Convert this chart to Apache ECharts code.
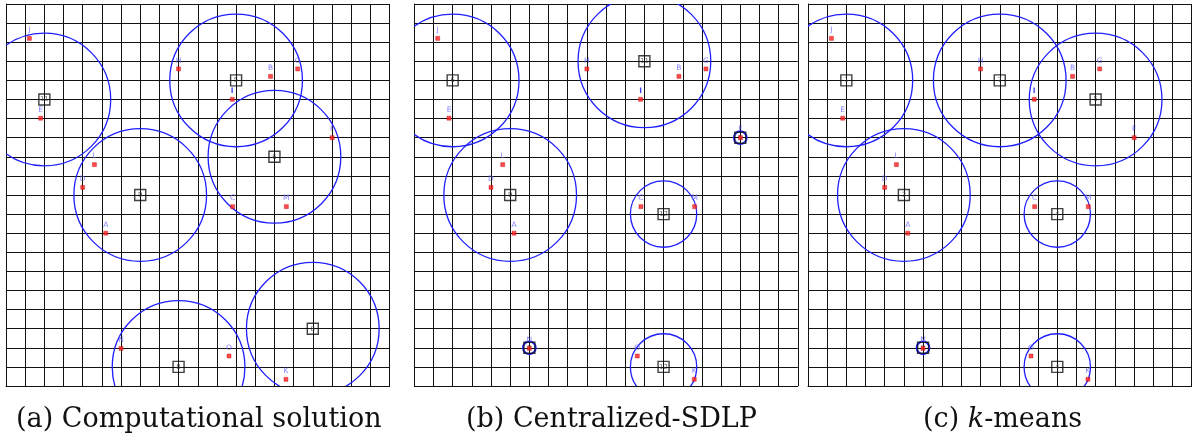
<!DOCTYPE html>
<html><head><meta charset="utf-8">
<script src="https://cdn.jsdelivr.net/npm/echarts@6/dist/echarts.min.js"></script>
<style>html,body{margin:0;padding:0;background:#fff}#c{width:1195px;height:440px}</style>
</head><body><div id="c"></div>
<script>
// Grid: 20 x 20 cells; coordinates measured from top-left corner of each panel
const pointNames = ['A','B','C','D','E','F','G','H','I','J','K','L','M','N','O'];
const pointX = [5.2, 13.8, 11.82, 4.0, 1.81, 17.01, 15.21, 9.0, 11.8, 1.22, 14.6, 4.61, 14.62, 6.0, 11.63];
const pointY = [12.0, 3.79, 10.61, 9.6, 5.98, 7.0, 3.40, 3.4, 4.99, 1.80, 19.65, 8.41, 10.61, 18.03, 18.43];

// Panel (a) Computational solution
const aCenterX = [2, 12, 14, 7, 9, 16];
const aCenterY = [5, 4, 8, 10, 19, 17];
const aRadius = [3.46, 3.46, 3.46, 3.46, 3.46, 3.46];
const aLabels = ['11', '5', '6', '9', '8', '8'];
// Panel (b) Centralized-SDLP
const bCenterX = [2, 12, 17, 5, 13, 13, 6];
const bCenterY = [4, 3, 7, 10, 11, 19, 18];
const bRadius = [3.46, 3.46, 0.33, 3.46, 1.73, 1.73, 0.33];
const bLabels = ['6', '11', '5', '9', '12', '12', '8'];
// Panel (c) k-means
const cCenterX = [2, 10, 15, 5, 13, 13, 6];
const cCenterY = [4, 4, 5, 10, 11, 19, 18];
const cRadius = [3.46, 3.46, 3.46, 3.46, 1.73, 1.73, 0.33];
const cLabels = ['1', '7', '5', '3', '4', '4', '8'];

const captions = ['(a) Computational solution', '(b) Centralized-SDLP', '(c) {i|k}-means'];

const panels = [
  {cx: aCenterX, cy: aCenterY, r: aRadius, lab: aLabels},
  {cx: bCenterX, cy: bCenterY, r: bRadius, lab: bLabels},
  {cx: cCenterX, cy: cCenterY, r: cRadius, lab: cLabels}
];
const gridPos = [
  {left: 6, top: 4, width: 383.5, height: 382},
  {left: 414.3, top: 4, width: 383.5, height: 382},
  {left: 808, top: 4, width: 383.5, height: 382}
];
const capLeft = [11, 461, 918];

const chart = echarts.init(document.getElementById('c'), null, {renderer: 'canvas'});
const grids = [], xAxes = [], yAxes = [], series = [], titles = [];
const lineStyle = {color: '#111', width: 1};
panels.forEach((p, k) => {
  grids.push(Object.assign({containLabel: false}, gridPos[k]));
  xAxes.push({type: 'value', gridIndex: k, min: 0, max: 20, interval: 1,
    axisLine: {show: true, onZero: false, lineStyle}, axisTick: {show: false}, axisLabel: {show: false},
    splitLine: {show: true, lineStyle}});
  yAxes.push({type: 'value', gridIndex: k, min: 0, max: 20, interval: 1, inverse: true,
    axisLine: {show: true, onZero: false, lineStyle}, axisTick: {show: false}, axisLabel: {show: false},
    splitLine: {show: true, lineStyle}});
  // coverage circles
  series.push({
    type: 'custom', xAxisIndex: k, yAxisIndex: k, clip: true, z: 3,
    data: p.cx.map((x, i) => [x, p.cy[i], p.r[i]]),
    renderItem: function (params, api) {
      const c = api.coord([api.value(0), api.value(1)]);
      const rr = api.size([api.value(2), 0])[0];
      const small = api.value(2) < 1;
      return {type: 'circle', shape: {cx: c[0], cy: c[1], r: rr},
        style: {fill: 'none', stroke: '#1f1fff', lineWidth: small ? 2 : 1.3}};
    }
  });
  // centre squares
  series.push({
    type: 'scatter', xAxisIndex: k, yAxisIndex: k, z: 4, symbol: 'rect', symbolSize: 11,
    itemStyle: {color: 'rgba(255,255,255,0)', borderColor: '#111', borderWidth: 1.4},
    label: {show: true, position: 'inside', formatter: (d) => p.lab[d.dataIndex],
      fontSize: 7, color: '#444', fontFamily: 'DejaVu Sans'},
    data: p.cx.map((x, i) => [x, p.cy[i]])
  });
  // users
  series.push({
    type: 'scatter', xAxisIndex: k, yAxisIndex: k, z: 5, symbol: 'rect', symbolSize: 4,
    itemStyle: {color: '#ff2020', borderColor: '#c00000', borderWidth: 0.5},
    label: {show: true, position: 'top', distance: 2,
      formatter: (d) => pointNames[d.dataIndex],
      fontSize: 7.5, color: '#6262ff', fontFamily: 'DejaVu Sans'},
    data: pointX.map((x, i) => pointNames[i] === 'I'
      ? {value: [x, pointY[i]], label: {color: '#1010ee', fontWeight: 'bold'}}
      : [x, pointY[i]])
  });
  titles.push({text: captions[k], left: capLeft[k], top: 401,
    textStyle: {fontFamily: 'DejaVu Serif', fontWeight: 'normal', fontSize: 27, color: '#111',
      rich: {i: {fontFamily: 'DejaVu Serif', fontStyle: 'italic', fontSize: 27, color: '#111'}}}});
});
chart.setOption({
  animation: false,
  backgroundColor: '#fff',
  title: titles,
  grid: grids, xAxis: xAxes, yAxis: yAxes, series: series
});
</script></body></html>
